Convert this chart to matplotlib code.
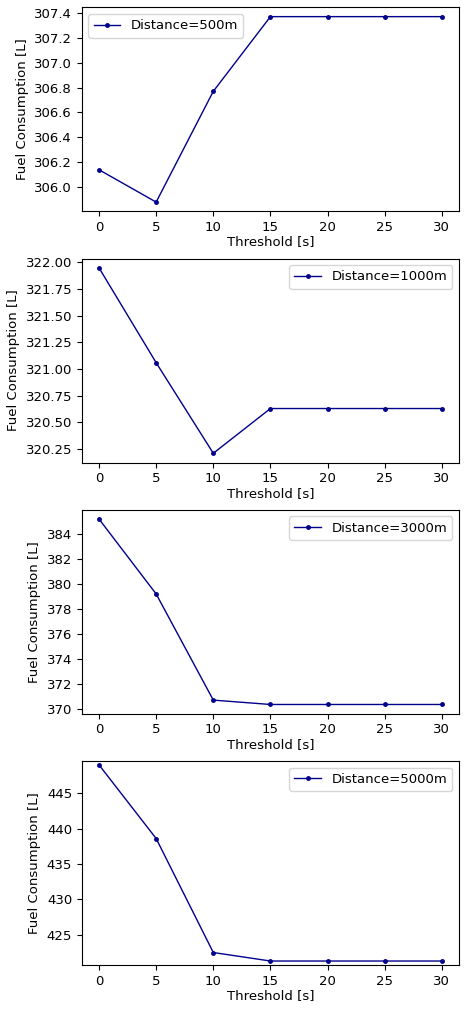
import matplotlib
matplotlib.use("Agg")
import matplotlib.pyplot as plt
from matplotlib.ticker import MultipleLocator

thresholds = [0, 5, 10, 15, 20, 25, 30]
fuel_500 = [306.14, 305.88, 306.77, 307.37, 307.37, 307.37, 307.37]
fuel_1000 = [321.95, 321.06, 320.21, 320.63, 320.63, 320.63, 320.63]
fuel_3000 = [385.2, 379.2, 370.7, 370.35, 370.35, 370.35, 370.35]
fuel_5000 = [449.0, 438.6, 422.5, 421.3, 421.3, 421.3, 421.3]
labels = ["Distance=500m", "Distance=1000m", "Distance=3000m", "Distance=5000m"]
locs = ["upper left", "upper right", "upper right", "upper right"]
steps = [0.2, 0.25, 2, 5]
margins = [0.05, 0.05, 0.05, 0.02]

fig, axes = plt.subplots(4, 1, figsize=(4.66, 10.09), dpi=100)
for ax, ys, lab, loc, st, m in zip(axes, [fuel_500, fuel_1000, fuel_3000, fuel_5000], labels, locs, steps, margins):
    ax.plot(thresholds, ys, color="darkblue", marker=".", markersize=5, linewidth=1, label=lab)
    ax.set_ymargin(m)
    ax.set_xlabel("Threshold [s]", fontsize=9.5, labelpad=1)
    ax.set_ylabel("Fuel Consumption [L]", fontsize=9.5)
    ax.tick_params(labelsize=9.5)
    ax.set_xticks([0, 5, 10, 15, 20, 25, 30])
    ax.yaxis.set_major_locator(MultipleLocator(st))
    ax.legend(loc=loc, fontsize=9.5)
fig.tight_layout(pad=0.5, h_pad=0.6)
fig.savefig("out.png")
